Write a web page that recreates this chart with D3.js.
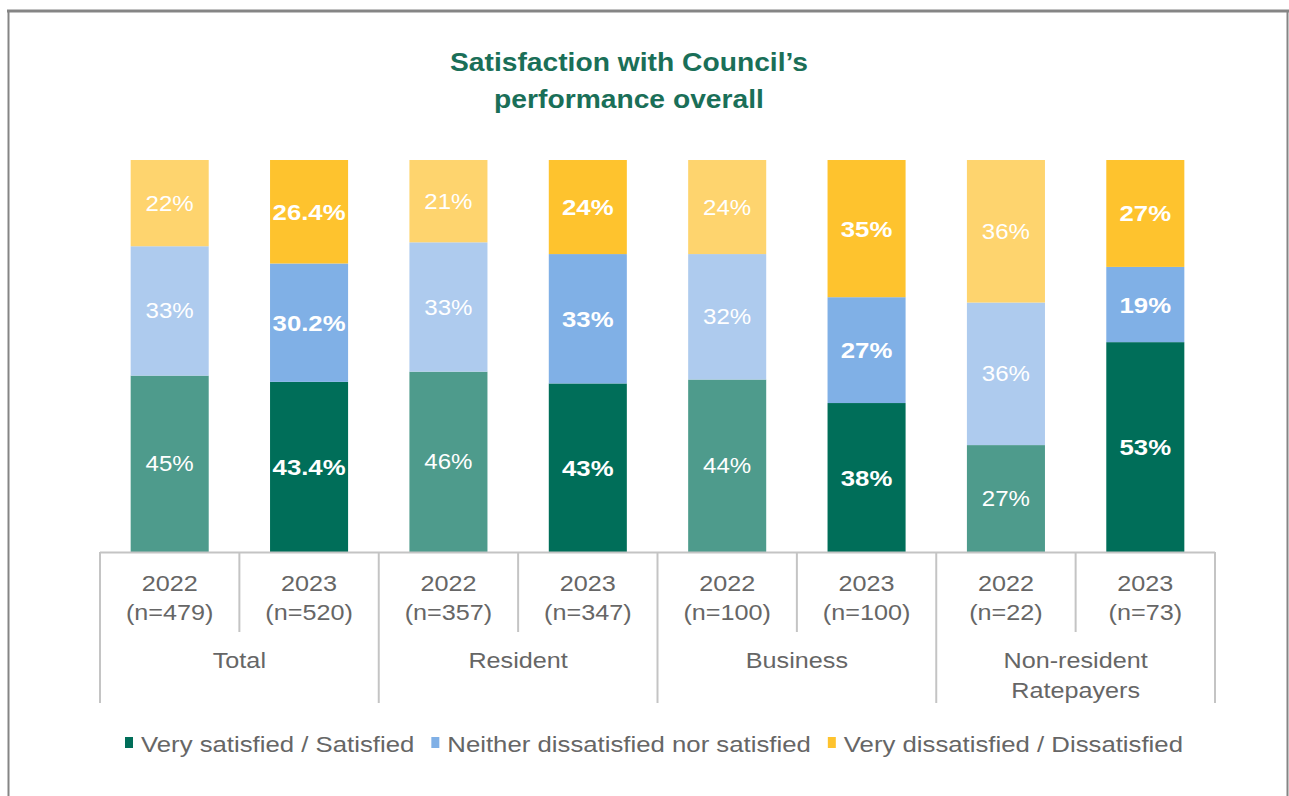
<!DOCTYPE html>
<html>
<head>
<meta charset="utf-8">
<script src="https://cdn.jsdelivr.net/npm/d3@7"></script>
<style>
  body { margin: 0; background: #ffffff; }
  svg { display: block; }
  text { font-family: "Liberation Sans", Arial, sans-serif; }
</style>
</head>
<body>
<svg id="chart" width="1289" height="796"></svg>
<script>
// Survey segments and waves
const groups = ["Total", "Resident", "Business", "Non-resident Ratepayers"];
const years = ["2022", "2023"];
const sampleSizes = ["(n=479)", "(n=520)", "(n=357)", "(n=347)", "(n=100)", "(n=100)", "(n=22)", "(n=73)"];

// Percentages per bar (Total 2022, Total 2023, Resident 2022, ...)
const satisfied    = [45, 43.4, 46, 43, 44, 38, 27, 53];
const neither      = [33, 30.2, 33, 33, 32, 27, 36, 19];
const dissatisfied = [22, 26.4, 21, 24, 24, 35, 36, 27];

const seriesKeys = ["satisfied", "neither", "dissatisfied"];
const seriesNames = ["Very satisfied / Satisfied", "Neither dissatisfied nor satisfied", "Very dissatisfied / Dissatisfied"];
const colors2022 = ["#4e9b8c", "#aecbee", "#fed46e"];
const colors2023 = ["#006e59", "#80b0e6", "#fec32e"];

const titleLines = ["Satisfaction with Council\u2019s", "performance overall"];

// ---------------------------------------------------------------
const svg = d3.select("#chart");
const STRETCH = 1.12;          // horizontal widening applied to all text
const axisColor = "#c4c4c4";
const textGrey = "#666666";

function addText(parent, x, y, str, opts = {}) {
  return parent.append("text")
    .attr("transform", `translate(${x},${y}) scale(${STRETCH},1)`)
    .attr("text-anchor", opts.anchor || "middle")
    .attr("font-size", opts.size || 22)
    .attr("font-weight", opts.weight || "normal")
    .attr("fill", opts.fill || textGrey)
    .attr("letter-spacing", opts.spacing || 0)
    .text(str);
}

// Outer frame
svg.append("line").attr("x1", 7).attr("x2", 1289).attr("y1", 11).attr("y2", 11)
  .attr("stroke", "#858585").attr("stroke-width", 3);
svg.append("line").attr("x1", 8.5).attr("x2", 8.5).attr("y1", 10).attr("y2", 796)
  .attr("stroke", "#858585").attr("stroke-width", 2);
svg.append("line").attr("x1", 1287.5).attr("x2", 1287.5).attr("y1", 10).attr("y2", 796)
  .attr("stroke", "#858585").attr("stroke-width", 2);

// Title
titleLines.forEach((t, i) => {
  addText(svg, 629, 71 + i * 37, t, { size: 25.2, weight: "bold", fill: "#1a6f58" });
});

// Rows for stacking
const rows = satisfied.map((v, i) => ({
  id: i,
  group: groups[Math.floor(i / 2)],
  year: years[i % 2],
  n: sampleSizes[i],
  satisfied: satisfied[i],
  neither: neither[i],
  dissatisfied: dissatisfied[i]
}));

const x = d3.scaleBand()
  .domain(rows.map(d => d.id))
  .range([100, 1215])
  .paddingInner(0.44)
  .paddingOuter(0.22);

const y = d3.scaleLinear().domain([0, 1]).range([552, 160]);

const stacked = d3.stack().keys(seriesKeys).offset(d3.stackOffsetExpand)(rows);

const layers = svg.append("g").selectAll("g")
  .data(stacked)
  .join("g");

layers.selectAll("rect")
  .data(d => d.map(s => ({ s, key: d.key, k: d.index })))
  .join("rect")
  .attr("x", d => x(d.s.data.id))
  .attr("width", x.bandwidth())
  .attr("y", d => y(d.s[1]))
  .attr("height", d => y(d.s[0]) - y(d.s[1]))
  .attr("fill", d => (d.s.data.year === "2022" ? colors2022 : colors2023)[d.k]);

// Value labels
const labelLayer = svg.append("g");
stacked.forEach(layer => {
  layer.forEach(s => {
    const is2023 = s.data.year === "2023";
    const cx = x(s.data.id) + x.bandwidth() / 2;
    const cy = y((s[0] + s[1]) / 2);
    addText(labelLayer, cx, cy + (is2023 ? 8 : 7.5), s.data[layer.key] + "%", {
      size: is2023 ? 23 : 21.5,
      weight: is2023 ? "bold" : "normal",
      fill: "#ffffff"
    });
  });
});

// Category axis (two levels)
const axis = svg.append("g");
const x0 = x.range()[0];
const step = x.step();
axis.append("line")
  .attr("x1", x0).attr("x2", x.range()[1])
  .attr("y1", 552.5).attr("y2", 552.5)
  .attr("stroke", axisColor).attr("stroke-width", 2);
d3.range(rows.length + 1).forEach(i => {
  const bx = x0 + i * step;
  axis.append("line")
    .attr("x1", bx).attr("x2", bx)
    .attr("y1", 552).attr("y2", i % 2 === 0 ? 703 : 632)
    .attr("stroke", axisColor).attr("stroke-width", 2);
});
rows.forEach(d => {
  const cx = x(d.id) + x.bandwidth() / 2;
  addText(axis, cx, 591, d.year, { size: 22.5 });
  addText(axis, cx, 620, d.n, { size: 22.5 });
});
groups.forEach((g, gi) => {
  const cx = x0 + gi * 2 * step + step;
  const words = g === "Non-resident Ratepayers" ? ["Non-resident", "Ratepayers"] : [g];
  words.forEach((w, li) => addText(axis, cx, 668 + li * 30, w, { size: 22.5 }));
});

// Legend
const legend = svg.append("g");
const items = seriesNames.map((name, i) => {
  const g = legend.append("g");
  g.append("rect").attr("x", 0).attr("y", -15).attr("width", 8).attr("height", 11)
    .attr("fill", colors2023[i]);
  const t = addText(g, 16, 0, name, { size: 23, anchor: "start" });
  const w = 16 + t.node().getComputedTextLength() * STRETCH;
  return { g, w };
});
const gap = 17;
let lx = 125;
items.forEach(it => {
  it.g.attr("transform", `translate(${lx},752)`);
  lx += it.w + gap;
});
</script>
</body>
</html>
